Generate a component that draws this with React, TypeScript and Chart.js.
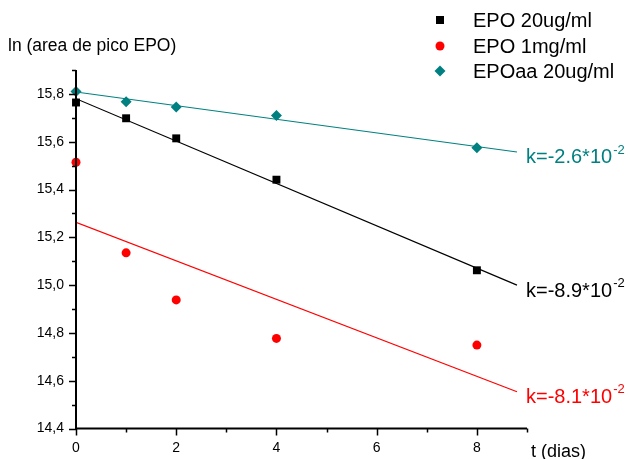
import React, { useEffect, useRef } from "react";
import { Chart, registerables } from "chart.js";

Chart.register(...registerables);

// ---- data ----
const days = [0, 1, 2, 4, 8];
const epo20 = [15.764, 15.698, 15.614, 15.441, 15.062];
const epo1mg = [15.514, 15.135, 14.938, 14.777, 14.749];
const epoaa20 = [15.81, 15.767, 15.745, 15.71, 15.575];

const fitX = [0, 8.8];
const fitEpo20 = [15.78, 15.0];
const fitEpo1mg = [15.263, 14.554];
const fitEpoaa20 = [15.808, 15.557];

const seriesNames = ["EPO 20ug/ml", "EPO 1mg/ml", "EPOaa 20ug/ml"];
const kLabels = ["k=-8.9*10", "k=-8.1*10", "k=-2.6*10"];
const kExponent = "-2";
const yTitle = "ln (area de pico EPO)";
const xTitle = "t (dias)";

const BLACK = "#000000";
const RED = "#ff0000";
const TEAL = "#008080";
const FONT = "'Liberation Sans', Arial, sans-serif";

const toPts = (xs: number[], ys: number[]) => xs.map((x, i) => ({ x, y: ys[i] }));

export default function App() {
  const ref = useRef<HTMLCanvasElement | null>(null);

  useEffect(() => {
    if (!ref.current) return;
    const colors = [BLACK, RED, TEAL];
    const styles = ["rect", "circle", "rectRot"];

    const drawMarker = (ctx: CanvasRenderingContext2D, style: string, x: number, y: number, color: string) => {
      ctx.save();
      ctx.fillStyle = color;
      ctx.beginPath();
      if (style === "rect") {
        ctx.rect(x - 4, y - 4, 8, 8);
      } else if (style === "circle") {
        ctx.arc(x, y, 4.5, 0, Math.PI * 2);
      } else {
        const r = 5.5;
        ctx.moveTo(x, y - r);
        ctx.lineTo(x + r, y);
        ctx.lineTo(x, y + r);
        ctx.lineTo(x - r, y);
        ctx.closePath();
      }
      ctx.fill();
      ctx.restore();
    };

    const overlay = {
      id: "overlay",
      afterDraw(chart: any) {
        const ctx: CanvasRenderingContext2D = chart.ctx;
        const xs = chart.scales.x;
        const ys = chart.scales.y;
        const { left, right, top, bottom } = chart.chartArea;
        ctx.save();
        // axes
        ctx.strokeStyle = BLACK;
        ctx.lineWidth = 2;
        ctx.beginPath();
        ctx.moveTo(left, top);
        ctx.lineTo(left, bottom);
        ctx.lineTo(right, bottom);
        ctx.stroke();
        ctx.lineWidth = 1.5;
        ctx.beginPath();
        ys.ticks.forEach((t: any) => {
          const p = Math.round(ys.getPixelForValue(t.value)) + 0.5;
          const major = Math.round(t.value * 10) % 2 === 0;
          const len = major ? 7 : 4;
          ctx.moveTo(left - len, p);
          ctx.lineTo(left, p);
        });
        xs.ticks.forEach((t: any) => {
          const p = Math.round(xs.getPixelForValue(t.value)) + 0.5;
          const major = Math.round(t.value) % 2 === 0;
          const len = major ? 7 : 4;
          ctx.moveTo(p, bottom);
          ctx.lineTo(p, bottom + len);
        });
        ctx.stroke();

        // titles
        ctx.fillStyle = BLACK;
        ctx.textBaseline = "middle";
        ctx.textAlign = "left";
        ctx.font = `17.5px ${FONT}`;
        ctx.fillText(yTitle, 8, 46);
        ctx.font = `18px ${FONT}`;
        ctx.fillText(xTitle, 531, 452);

        // legend
        ctx.font = `20px ${FONT}`;
        const rowsY = [20, 46, 71];
        seriesNames.forEach((name, i) => {
          drawMarker(ctx, styles[i], 440, rowsY[i], colors[i]);
          ctx.fillStyle = BLACK;
          ctx.fillText(name, 473, rowsY[i] + 1);
        });

        // k labels at end of fit lines
        const fits = [fitEpo20, fitEpo1mg, fitEpoaa20];
        fits.forEach((f, i) => {
          const px = xs.getPixelForValue(fitX[1]) + 9;
          const py = ys.getPixelForValue(f[1]) + 6;
          ctx.fillStyle = colors[i];
          ctx.font = `20px ${FONT}`;
          ctx.textBaseline = "middle";
          ctx.fillText(kLabels[i], px, py);
          const w = ctx.measureText(kLabels[i]).width;
          ctx.font = `13px ${FONT}`;
          ctx.fillText(kExponent, px + w + 1, py - 8);
        });
        ctx.restore();
      },
    };

    const chart = new Chart(ref.current, {
      type: "scatter",
      data: {
        datasets: [
          {
            label: seriesNames[0],
            data: toPts(days, epo20),
            pointStyle: "rect",
            pointRadius: 5.6,
            backgroundColor: BLACK,
            borderWidth: 0,
            clip: false,
          },
          {
            label: seriesNames[1],
            data: toPts(days, epo1mg),
            pointStyle: "circle",
            pointRadius: 4.5,
            backgroundColor: RED,
            borderWidth: 0,
            clip: false,
          },
          {
            label: seriesNames[2],
            data: toPts(days, epoaa20),
            pointStyle: "rectRot",
            pointRadius: 5.5,
            backgroundColor: TEAL,
            borderWidth: 0,
            clip: false,
          },
          {
            label: "fit1",
            data: toPts(fitX, fitEpo20),
            showLine: true,
            pointRadius: 0,
            borderColor: BLACK,
            borderWidth: 1.2,
          },
          {
            label: "fit2",
            data: toPts(fitX, fitEpo1mg),
            showLine: true,
            pointRadius: 0,
            borderColor: RED,
            borderWidth: 1.2,
          },
          {
            label: "fit3",
            data: toPts(fitX, fitEpoaa20),
            showLine: true,
            pointRadius: 0,
            borderColor: TEAL,
            borderWidth: 1.2,
          },
        ],
      },
      options: {
        animation: false,
        responsive: false,
        devicePixelRatio: 1,
        layout: { padding: { top: 70, right: 103, left: 0, bottom: 0 } },
        plugins: { legend: { display: false }, tooltip: { enabled: false } },
        scales: {
          x: {
            type: "linear",
            min: 0,
            max: 9,
            border: { display: false },
            grid: { display: false, drawTicks: false },
            ticks: {
              stepSize: 1,
              padding: 11,
              color: BLACK,
              font: { family: FONT, size: 14 },
              maxRotation: 0,
              autoSkip: false,
              callback: (v: any) => (Math.round(v) % 2 === 0 ? String(v) : ""),
            },
            afterFit: (s: any) => {
              s.height = 30.5;
            },
          },
          y: {
            type: "linear",
            min: 14.4,
            max: 15.9,
            border: { display: false },
            grid: { display: false, drawTicks: false },
            ticks: {
              stepSize: 0.1,
              padding: 12,
              color: BLACK,
              font: { family: FONT, size: 14 },
              autoSkip: false,
              callback: (v: any) => {
                const n = Math.round(v * 10);
                return n % 2 === 0 ? (n / 10).toFixed(1).replace(".", ",") : "";
              },
            },
            afterFit: (s: any) => {
              s.width = 76;
            },
          },
        },
      },
      plugins: [overlay],
    } as any);
    return () => chart.destroy();
  }, []);

  return (
    <div style={{ position: "fixed", left: 0, top: 0, width: 630, height: 459, background: "#fff" }}>
      <canvas ref={ref} width={630} height={459} style={{ width: 630, height: 459 }} />
    </div>
  );
}
